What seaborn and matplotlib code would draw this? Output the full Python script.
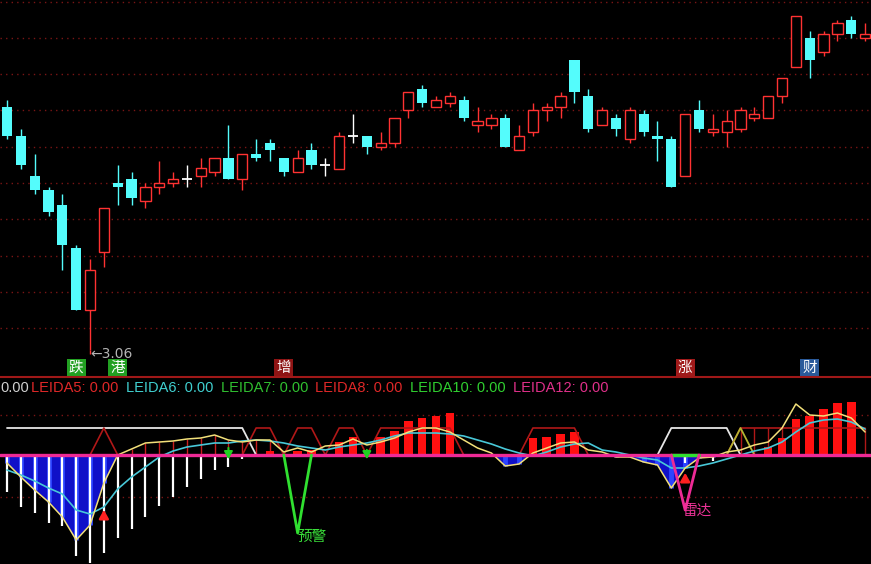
import numpy as np
import pandas as pd
import seaborn as sns
import matplotlib.pyplot as plt
from matplotlib.lines import Line2D

# ---- K线 (open / high / low / close) ----
opens  = [3.73, 3.65, 3.54, 3.50, 3.46, 3.34, 3.17, 3.33, 3.52, 3.53,
          3.47, 3.51, 3.52, 3.53, 3.54, 3.55, 3.59, 3.53, 3.60, 3.63,
          3.59, 3.55, 3.61, 3.57, 3.56, 3.65, 3.65, 3.62, 3.63, 3.72,
          3.78, 3.73, 3.74, 3.75, 3.68, 3.68, 3.70, 3.61, 3.66, 3.72,
          3.73, 3.86, 3.76, 3.68, 3.70, 3.64, 3.71, 3.65, 3.64, 3.54,
          3.72, 3.66, 3.66, 3.67, 3.70, 3.70, 3.76, 3.84, 3.92, 3.88,
          3.93, 3.97, 3.92]
highs  = [3.75, 3.67, 3.60, 3.51, 3.49, 3.35, 3.31, 3.45, 3.57, 3.55,
          3.52, 3.58, 3.55, 3.57, 3.59, 3.59, 3.68, 3.60, 3.64, 3.64,
          3.59, 3.61, 3.63, 3.59, 3.66, 3.71, 3.65, 3.66, 3.70, 3.77,
          3.79, 3.76, 3.77, 3.76, 3.73, 3.71, 3.71, 3.68, 3.74, 3.74,
          3.77, 3.86, 3.78, 3.73, 3.71, 3.73, 3.72, 3.69, 3.65, 3.71,
          3.75, 3.71, 3.72, 3.73, 3.73, 3.76, 3.81, 3.98, 3.94, 3.94,
          3.97, 3.98, 3.96]
lows   = [3.64, 3.56, 3.49, 3.43, 3.28, 3.17, 3.06, 3.29, 3.46, 3.46,
          3.45, 3.49, 3.51, 3.51, 3.51, 3.54, 3.53, 3.50, 3.58, 3.58,
          3.54, 3.55, 3.56, 3.54, 3.56, 3.63, 3.60, 3.61, 3.62, 3.70,
          3.73, 3.73, 3.73, 3.69, 3.66, 3.67, 3.62, 3.61, 3.65, 3.69,
          3.70, 3.74, 3.66, 3.68, 3.65, 3.63, 3.65, 3.58, 3.51, 3.54,
          3.66, 3.65, 3.62, 3.66, 3.69, 3.70, 3.74, 3.84, 3.81, 3.87,
          3.91, 3.92, 3.91]
closes = [3.65, 3.57, 3.50, 3.44, 3.35, 3.17, 3.28, 3.45, 3.51, 3.48,
          3.51, 3.52, 3.53, 3.53, 3.56, 3.59, 3.53, 3.60, 3.59, 3.61,
          3.55, 3.59, 3.57, 3.57, 3.65, 3.65, 3.62, 3.63, 3.70, 3.77,
          3.74, 3.75, 3.76, 3.70, 3.69, 3.70, 3.62, 3.65, 3.72, 3.73,
          3.76, 3.77, 3.67, 3.72, 3.67, 3.72, 3.66, 3.64, 3.51, 3.71,
          3.67, 3.67, 3.69, 3.72, 3.71, 3.76, 3.81, 3.98, 3.86, 3.93,
          3.96, 3.93, 3.93]

# signal labels on the price panel
sig_idx = [5, 8, 20, 49, 58]
sig_txt = ['跌', '港', '增', '涨', '财']
sig_bg = ['#22a022', '#22a022', '#8e1414', '#a01a1a', '#2a5a9a']

# ---- LEIDA indicator ----
leida_main = [-8, -22, -35, -47, -62, -85, -70, -28, 0, 6,
              12, 13, 14, 16, 17, 20, 15, 13, 15, 15,
              3, 7, 3, 9, 10, 16, 10, 13, 17, 23,
              27, 27, 23, 15, 7, 2, -11, -9, 2, 7,
              12, 13, 5, 3, -2, -2, -7, -10, -33, -13,
              -3, -2, 3, 5, 10, 13, 27, 51, 40, 39,
              42, 37, 23]
leida_avg = [-15, -20, -26, -33, -39, -55, -59, -52, -34, -22,
             -12, -2, 4, 8, 10, 12, 12, 14, 15, 14,
             12, 9, 7, 5, 8, 10, 12, 15, 19, 22,
             22, 22, 21, 19, 15, 11, 6, 2, -1, 3,
             8, 11, 12, 5, 3, 0, -3, -5, -13, -13,
             -11, -8, -4, 0, 4, 7, 13, 23, 32, 35,
             36, 33, 26]
white_bars = [-37, -52, -58, -68, -71, -101, -108, -98, -83, -74,
              -62, -51, -42, -32, -24, -15, -12, -4, 0, 0,
              0, 0, 0, 0, 0, 0, 0, 0, 0, 0,
              0, 0, 0, 0, 0, 0, 0, 0, 0, 0,
              0, 0, 0, 0, 0, 0, 0, 0, 0, -8,
              0, -6, 0, 0, 0, 0, 0, 0, 0, 0,
              0, 0, 0]
red_bars = [0, 0, 0, 0, 0, 0, 0, 0, 0, 0,
            0, 0, 0, 0, 0, 0, 0, 0, 0, 4,
            0, 4, 5, 0, 13, 18, 0, 18, 24, 34,
            37, 39, 42, 0, 0, 0, 0, 0, 17, 18,
            21, 23, 0, 0, 0, 0, 0, 0, 0, 0,
            0, 0, 0, 0, 0, 8, 17, 36, 39, 46,
            52, 53, 0]
white_state = [27] * 18 + [0] * 30 + [27] * 5 + [0] * 10
red_state = ([0] * 7 + [27] + [0] * 10 + [27, 27, 0, 27, 27, 0, 27, 27, 0]
             + [27] * 6 + [0] * 5 + [27] * 4 + [0] * 11 + [27] * 10)
olive_state = [0] * 53 + [27] + [0] * 9
hatch_left = list(range(9, 20))
hatch_right = list(range(53, 63))
warn_idx, warn_val = [20, 21, 22], [0, -78, 0]
radar_idx, radar_val = [48, 49, 50], [0, -55, 0]
band_idx = [48, 50]
up_idx, up_tip, up_base = [7, 49], [-52, -15], [-66, -28]
dn_idx, dn_tip, dn_base = [16, 26], [-7, -7], [10, 8]

leg_names = ['', 'LEIDA5', 'LEIDA6', 'LEIDA7', 'LEIDA8', 'LEIDA10', 'LEIDA12']
leg_vals = [0, 0, 0, 0, 0, 0, 0]
leg_cols = ['#d0d0d0', '#e02828', '#40d0d0', '#30c030', '#e02828', '#30d030', '#e0308a']
leg_x = [0, 31, 126, 221, 315, 410, 513]

sns.set_theme(style='dark', rc={'figure.facecolor': 'black', 'axes.facecolor': 'black',
                                'savefig.facecolor': 'black'})
plt.rcParams['font.family'] = ['Noto Sans CJK SC', 'DejaVu Sans']

W, H = 871, 564
fig = plt.figure(figsize=(W / 100, H / 100), dpi=100)
ax1 = fig.add_axes([0, 188 / H, 1, 376 / H])
ax2 = fig.add_axes([0, 0, 1, 187 / H])
step = 13.84
xl = (-7 / step, (W - 7) / step)
grid_c = '#7a1515'
dots = (0, (1, 3))

# ---------- price panel ----------
df = pd.DataFrame(dict(i=np.arange(len(opens)), o=opens, h=highs, l=lows, c=closes))
df['kind'] = np.where(df.c > df.o, 'up', np.where(df.c < df.o, 'down', 'flat'))
cmap = {'up': '#ff3232', 'down': '#54fcfc', 'flat': '#ffffff'}

for g in np.arange(3.12, 4.03, 0.1):
    ax1.axhline(g, color=grid_c, lw=1, ls=dots, zorder=0)

ax1.vlines(df.i, df.l, df.h, colors=df.kind.map(cmap), lw=1, zorder=2)
up = df[df.kind == 'up']
dn = df[df.kind == 'down']
fl = df[df.kind == 'flat']
ax1.bar(up.i, up.c - up.o, bottom=up.o, width=0.74, facecolor='black',
        edgecolor='#ff3232', lw=1, zorder=3)
ax1.bar(dn.i, dn.o - dn.c, bottom=dn.c, width=0.74, color='#54fcfc', lw=0, zorder=3)
ax1.hlines(fl.c, fl.i - 0.37, fl.i + 0.37, color='white', lw=1.3, zorder=3)

lo = int(np.argmin(lows))
ax1.vlines(lo, lows[lo] - 0.011, lows[lo], color='#ff3232', lw=1)
ax1.text(lo, lows[lo] - 0.011, '←%.2f' % lows[lo], color='#b4b4b4', fontsize=10,
         family=['DejaVu Sans'], ha='left', va='center')

for i, t, bg in zip(sig_idx, sig_txt, sig_bg):
    ax1.text(i, 0.022, t, transform=ax1.get_xaxis_transform(), ha='center', va='center',
             fontsize=10.5, color='white',
             bbox=dict(boxstyle='square,pad=0.15', fc=bg, ec='none'))

ax1.set_xlim(*xl)
ax1.set_ylim(3.06 - 26 / 363, 3.06 + 350 / 363)
ax1.axis('off')

# ---------- LEIDA panel ----------
idx = np.arange(len(leida_main))
ym = np.array(leida_main, dtype=float)

for g in [40, -42]:
    ax2.axhline(g, color=grid_c, lw=1, ls=dots, zorder=0)

ax2.fill_between(idx, ym, 0, where=ym < 0, interpolate=True, color='#1010c8', lw=0, zorder=1)
neg = idx[ym < 0]
ax2.vlines(neg, ym[neg], 0, color='#2c44ff', lw=3.5, zorder=1)
ax2.vlines(idx, white_bars, 0, color='white', lw=1.6, zorder=3)
ax2.vlines(hatch_left, 0, ym[hatch_left], color='#c81e1e', lw=1, zorder=2)
ax2.vlines(hatch_right, 0, np.array(red_state)[hatch_right], color='#b01818', lw=1, zorder=2)
ax2.bar(idx, red_bars, width=0.62, color='#ff1010', lw=0, zorder=3)

sns.lineplot(x=idx, y=white_state, ax=ax2, color='#e6e6e6', lw=1.3, zorder=4)
sns.lineplot(x=idx, y=red_state, ax=ax2, color='#b01818', lw=1.2, zorder=4)
sns.lineplot(x=idx, y=olive_state, ax=ax2, color='#b4b432', lw=1.3, zorder=4)
sns.lineplot(x=idx, y=leida_avg, ax=ax2, color='#48c8d8', lw=1.2, zorder=5)
sns.lineplot(x=idx, y=leida_main, ax=ax2, color='#f2e07a', lw=1.1, zorder=5)

ax2.axhline(0, color='#ee2a96', lw=2.4, zorder=6)

ax2.plot(warn_idx, warn_val, color='#30e030', lw=2, zorder=7)
ax2.plot(band_idx, [0, 0], color='#30e030', lw=2.4, zorder=7)
ax2.plot(radar_idx, radar_val, color='#ee2a96', lw=2, zorder=7)
ax2.text(warn_idx[1], warn_val[1] - 4, '预警', color='#3ae03a', fontsize=10.5,
         ha='left', va='center', zorder=8)
ax2.text(radar_idx[1] - 0.15, radar_val[1] - 1, '雷达', color='#ee3399', fontsize=10.5,
         ha='left', va='center', zorder=8)

for i, t, b in zip(up_idx, up_tip, up_base):
    ax2.annotate('', xy=(i, t), xytext=(i, b), zorder=8,
                 arrowprops=dict(arrowstyle='-|>,head_width=0.28,head_length=0.5',
                                 mutation_scale=10, color='#ff2020', lw=1.8))
for i, t, b in zip(dn_idx, dn_tip, dn_base):
    ax2.annotate('', xy=(i, t), xytext=(i, b), zorder=8,
                 arrowprops=dict(arrowstyle='-|>,head_width=0.25,head_length=0.45',
                                 mutation_scale=10, color='#20d020', lw=1.4))

ax2.set_xlim(*xl)
ax2.set_ylim(-109, 78)
ax2.axis('off')

# separator and legend row
fig.add_artist(Line2D([0, 1], [1 - 377 / H, 1 - 377 / H], transform=fig.transFigure,
                      color='#a01818', lw=1.5))
for n, v, c, x in zip(leg_names, leg_vals, leg_cols, leg_x):
    label = ('%s: %.2f' % (n, v)) if n else '%.2f' % v
    fig.text(x / W, 1 - 388 / H, label, color=c, fontsize=10.5, family=['Liberation Sans'],
             ha='left', va='center')

fig.savefig('out.png', dpi=100, facecolor='black')
